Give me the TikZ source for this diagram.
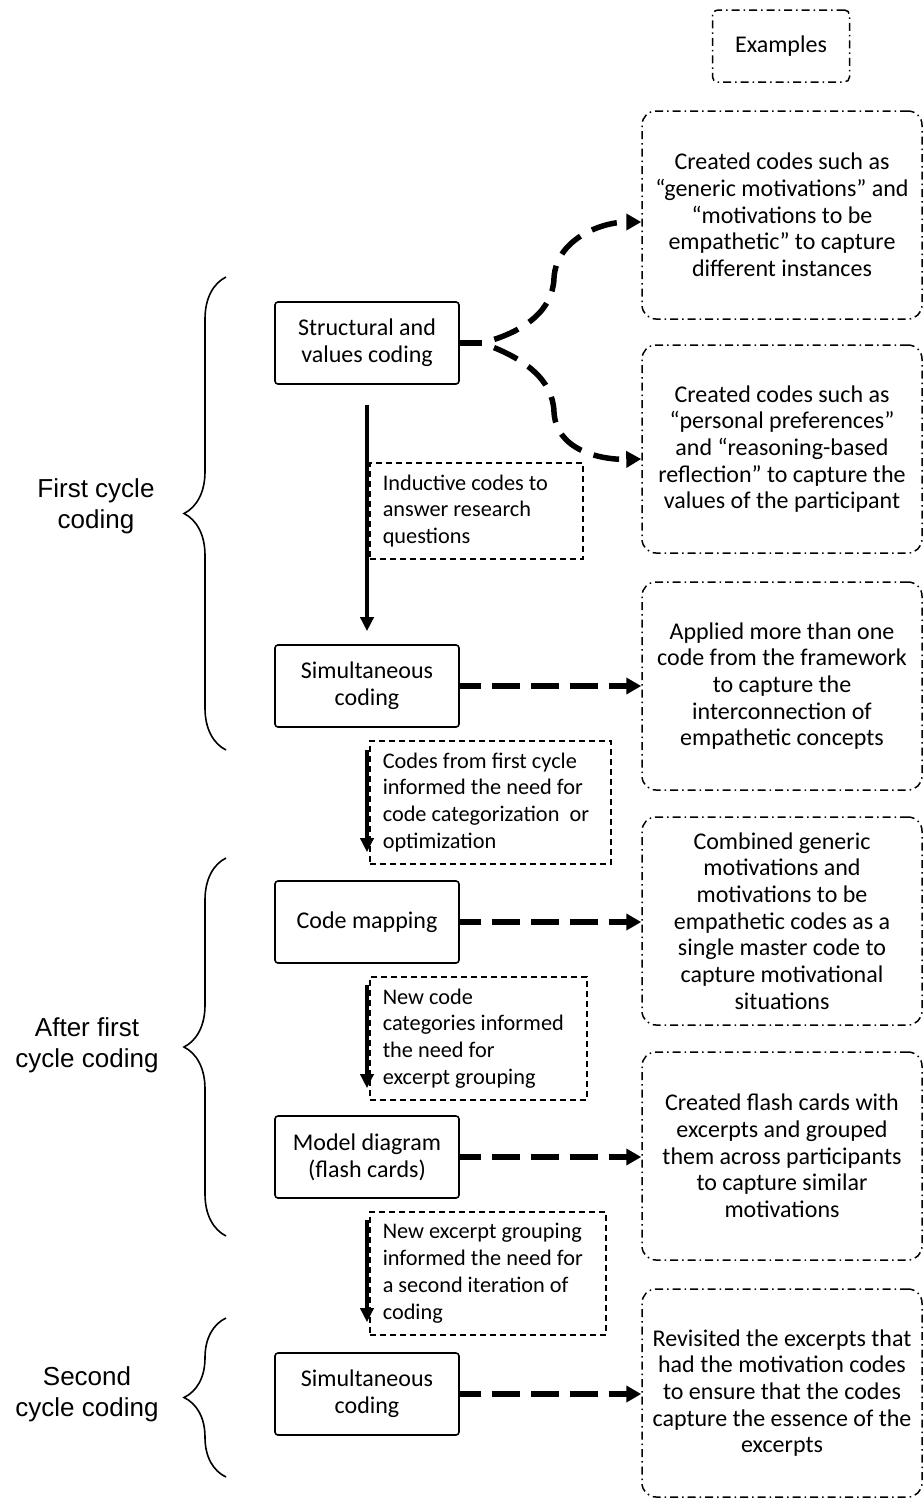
\documentclass[tikz,border=0pt]{standalone}
\usepackage{fontspec}
\setmainfont{Carlito}
\newfontfamily\arialfont{Liberation Sans}
\usetikzlibrary{arrows.meta,calc,decorations.pathreplacing}

\begin{document}
\begin{tikzpicture}[x=1pt,y=-1pt,
  procbox/.style={draw, line width=1.6pt, rounded corners=3pt, minimum width=184pt,
    minimum height=82pt, align=center, font=\fontsize{24}{27}\selectfont},
  exbox/.style={draw, line width=1.5pt, rounded corners=14pt,
    dash pattern=on 8pt off 4pt on 1.5pt off 4pt, minimum width=280pt,
    minimum height=208pt, align=center, inner sep=2pt, font=\fontsize{24}{26.7}\selectfont},
  notebox/.style={draw, line width=1.5pt, dash pattern=on 6pt off 4pt, anchor=north west,
    align=flush left, inner xsep=13pt, font=\fontsize{22.3}{26.7}\selectfont},
  flow/.style={line width=3.5pt, -{Triangle[length=14pt,width=13pt]}},
  link/.style={line width=5.5pt, dash pattern=on 28pt off 11pt, dash phase=7pt,
    -{Triangle[length=15pt,width=16pt]}},
  phase/.style={decorate, decoration={brace, amplitude=42pt}, line width=1.6pt},
  phaselabel/.style={font=\arialfont\fontsize{26}{31}\selectfont, align=center}
]
\useasboundingbox (0,0) rectangle (924,1500);

%steps of the coding process
\node[procbox] (struct) at (367,343) {Structural and\\values coding};
\node[procbox] (simul) at (367,686) {Simultaneous\\coding};
\node[procbox] (cmap) at (367,922) {Code mapping};
\node[procbox] (model) at (367,1157) {Model diagram\\(flash cards)};
\node[procbox] (simul2) at (367,1394) {Simultaneous\\coding};

%notes beside the arrows
\node[notebox, text width=187pt, minimum height=96pt] (n1) at (369,462)
  {Inductive codes to\\answer research\\questions};
\node[notebox, text width=215pt, minimum height=123pt] (n2) at (369,740)
  {Codes from first cycle\\informed the need for\\code categorization\ \ or\\optimization};
\node[notebox, text width=191pt, minimum height=123pt] (n3) at (369,976)
  {New code\\categories informed\\the need for\\excerpt grouping};
\node[notebox, text width=210pt, minimum height=123pt] (n4) at (369,1211)
  {New excerpt grouping\\informed the need for\\a second iteration of\\coding};

%examples
\node[exbox, minimum width=137pt, minimum height=72pt, rounded corners=5pt] (exhead) at (781,46) {Examples};
\node[exbox] (ex1) at (782,215) {Created codes such as\\``generic motivations'' and\\``motivations to be\\empathetic'' to capture\\different instances};
\node[exbox] (ex2) at (782,449) {Created codes such as\\``personal preferences''\\and ``reasoning-based\\reflection'' to capture the\\values of the participant};
\node[exbox] (ex3) at (782,686) {Applied more than one\\code from the framework\\to capture the\\interconnection of\\empathetic concepts};
\node[exbox] (ex4) at (782,921) {Combined generic\\motivations and\\motivations to be\\empathetic codes as a\\single master code to\\capture motivational\\situations};
\node[exbox] (ex5) at (782,1156) {Created flash cards with\\excerpts and grouped\\them across participants\\to capture similar\\motivations};
\node[exbox] (ex6) at (782,1393) {Revisited the excerpts that\\had the motivation codes\\to ensure that the codes\\capture the essence of the\\excerpts};

%main flow
\draw[flow, shorten <=20pt, shorten >=13pt] (struct) -- (simul);
\draw[flow, shorten <=22pt, shorten >=28pt] (simul) -- (cmap);
\draw[flow, shorten <=21pt, shorten >=27pt] (cmap) -- (model);
\draw[flow, shorten <=21pt, shorten >=30pt] (model) -- (simul2);

%links to examples
\coordinate (split) at ($(struct.east)+(22,0)$);
\draw[line width=5.5pt] (struct.east) -- (split);
\draw[link, dash pattern=on 26pt off 13pt, dash phase=26pt] (split)
  .. controls (525,332) and (553,310) .. (554,278)
  .. controls (556,240) and (600,222) .. ($(ex1.west)+(0,7)$);
\draw[link, dash pattern=on 26pt off 13pt, dash phase=26pt] (split)
  .. controls (525,358) and (553,380) .. (554,412)
  .. controls (556,450) and (600,460) .. ($(ex2.west)+(0,10)$);
\draw[link] (simul.east) -- (simul.east -| ex3.west);
\draw[link] (cmap.east) -- (cmap.east -| ex4.west);
\draw[link] (model.east) -- (model.east -| ex5.west);
\draw[link] (simul2.east) -- (simul2.east -| ex6.west);

%cycles
\draw[phase] (226,750) -- (226,277);
\draw[phase] (226,1236) -- (226,858);
\draw[phase] (226,1477) -- (226,1318);
\node[phaselabel] (lfirst) at (96,506) {First cycle\\coding};
\node[phaselabel] (lafter) at (87,1045) {After first\\cycle coding};
\node[phaselabel] (lsecond) at (87,1394) {Second\\cycle coding};
\end{tikzpicture}
\end{document}
